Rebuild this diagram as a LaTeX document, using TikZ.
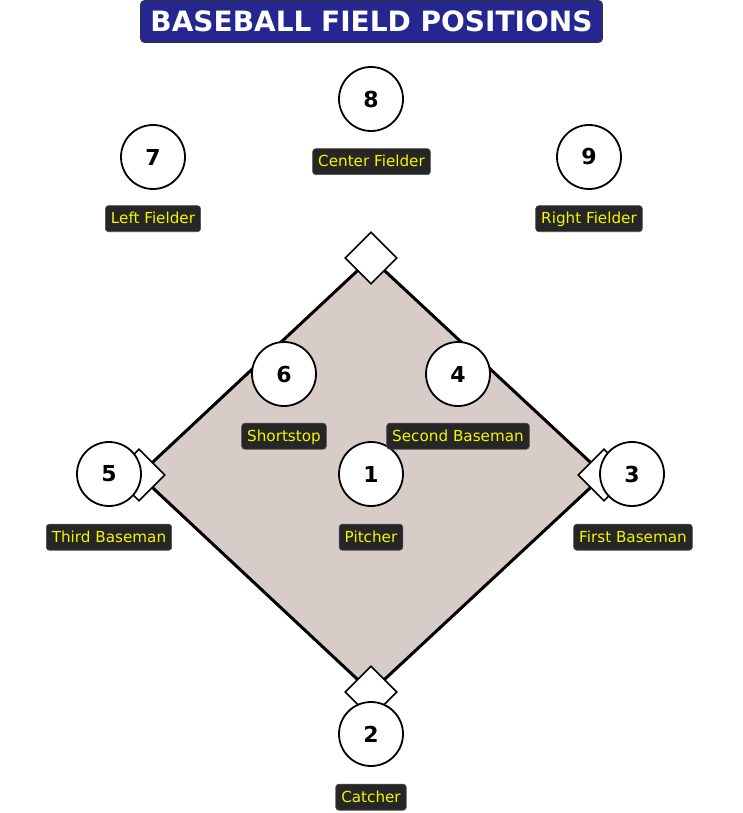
\documentclass[tikz,border=0pt]{standalone}
\usepackage{fontspec}
\setmainfont{DejaVu Sans}
\usetikzlibrary{shapes.geometric}
\definecolor{fieldfill}{RGB}{216,204,200}
\definecolor{titleblue}{RGB}{38,38,145}
\definecolor{labelbg}{RGB}{38,38,38}
\definecolor{labeltext}{RGB}{245,245,0}
\begin{document}
\begin{tikzpicture}[x=1pt,y=-1pt,
  player/.style={circle, draw=black, line width=1.8pt, fill=white, minimum size=64pt, inner sep=0pt, font=\fontsize{22}{26}\selectfont\bfseries},
  poslabel/.style={rectangle, rounded corners=3pt, fill=labelbg, draw=black!70, line width=0.6pt, text=labeltext, font=\fontsize{15.2}{18}\selectfont, inner xsep=5.5pt, inner ysep=0pt, minimum height=26pt, text height=12.25pt, text depth=2.25pt},
  basebox/.style={diamond, draw=black, line width=1.6pt, fill=white, minimum width=52pt, minimum height=52pt, inner sep=0pt},
  fieldline/.style={draw=black, line width=3pt, fill=fieldfill, line join=miter},
  titlebox/.style={rectangle, rounded corners=4pt, fill=titleblue, draw=black!80, line width=0.8pt, text=white, font=\fontsize{28}{32}\selectfont\bfseries, minimum width=462pt, minimum height=42pt, inner sep=0pt}
  ]
\useasboundingbox (0,0) rectangle (743,813);
% title
\node[titlebox] (title) at (371.5,21.5) {BASEBALL FIELD POSITIONS};
% base positions
\coordinate (c2b) at (371,258);
\coordinate (c3b) at (139,475);
\coordinate (c1b) at (604,475);
\coordinate (chp) at (371,692);
% infield
\draw[fieldline] (c2b) -- (c1b) -- (chp) -- (c3b) -- cycle;
% bases
\node[basebox] (second) at (c2b) {};
\node[basebox] (third) at (c3b) {};
\node[basebox] (first) at (c1b) {};
\node[basebox] (home) at (chp) {};
% players
\node[player] (p8) at (371,99) {8};
\node[player] (p7) at (153,157) {7};
\node[player] (p9) at (589,157) {9};
\node[player] (p6) at (284,374) {6};
\node[player] (p4) at (458,374) {4};
\node[player] (p5) at (109,474) {5};
\node[player] (p1) at (371,474) {1};
\node[player] (p3) at (632,474) {3};
\node[player] (p2) at (371,734) {2};
% labels
\node[poslabel] (l8) at (371.5,161.7) {Center Fielder};
\node[poslabel] (l7) at (153,218.7) {Left Fielder};
\node[poslabel] (l9) at (589,218.7) {Right Fielder};
\node[poslabel] (l6) at (284,436.2) {Shortstop};
\node[poslabel] (l4) at (458,436.2) {Second Baseman};
\node[poslabel] (l5) at (109,537.2) {Third Baseman};
\node[poslabel] (l1) at (371,537.2) {Pitcher};
\node[poslabel] (l3) at (633,537.2) {First Baseman};
\node[poslabel] (l2) at (371,797.2) {Catcher};
\end{tikzpicture}
\end{document}
